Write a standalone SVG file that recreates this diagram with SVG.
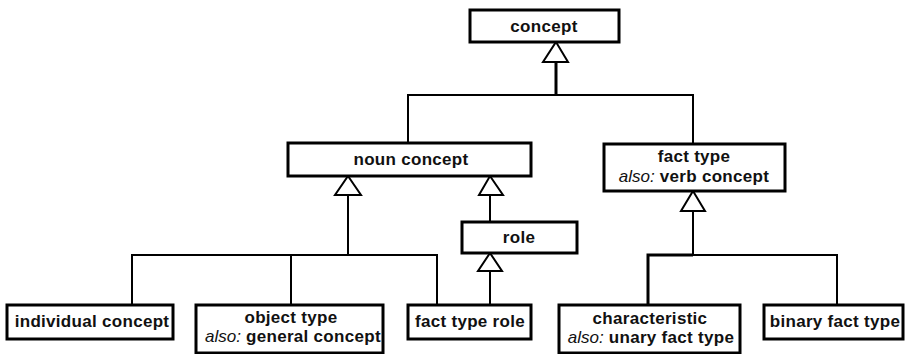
<svg xmlns="http://www.w3.org/2000/svg" width="911" height="354" viewBox="0 0 911 354">
  <style>
    .box { fill: #ffffff; stroke: #000000; stroke-width: 3; }
    .conn { fill: none; stroke: #000000; stroke-width: 2; }
    .thick { stroke-width: 3; }
    .gen { fill: #ffffff; stroke: #000000; stroke-width: 2; stroke-linejoin: miter; }
    text { font-family: "Liberation Sans", Arial, sans-serif; font-size: 17px; font-weight: bold; fill: #111111; text-anchor: middle; letter-spacing: 0.3px; }
    .it { font-style: italic; font-weight: normal; letter-spacing: 0; }
  </style>

  <!-- generalization connectors -->
  <g id="connectors">
    <!-- concept <- noun concept, fact type -->
    <path class="conn thick" d="M556,62 V95"/>
    <path class="conn" d="M408,143 V95 H693 V144"/>
    <polygon class="gen" points="556,42 568,62 543,62"/>

    <!-- noun concept <- individual concept, object type, fact type role -->
    <path class="conn" d="M348,195 V255"/>
    <path class="conn" d="M132,305 V255 H437 V305"/>
    <path class="conn" d="M291,255 V305"/>
    <polygon class="gen" points="348,176 361,195 335,195"/>

    <!-- noun concept <- role -->
    <path class="conn" d="M490,195 V222"/>
    <polygon class="gen" points="490,176 503,195 479,195"/>

    <!-- role <- fact type role -->
    <path class="conn" d="M490,271 V305"/>
    <polygon class="gen" points="490,253 502,271 478,271"/>

    <!-- fact type <- characteristic, binary fact type -->
    <path class="conn" d="M693,211 V255"/>
    <path class="conn thick" d="M648,305 V255 H693"/>
    <path class="conn" d="M693,255 H837 V305"/>
    <polygon class="gen" points="693,191 705,211 681,211"/>
  </g>

  <g id="concept">
    <rect class="box" x="470" y="10" width="149" height="32"/>
    <text x="544" y="32">concept</text>
  </g>

  <g id="noun-concept">
    <rect class="box" x="288" y="143" width="243" height="33"/>
    <text x="411" y="165">noun concept</text>
  </g>

  <g id="fact-type">
    <rect class="box" x="604" y="144" width="181" height="47"/>
    <text x="694" y="162">fact type</text>
    <text x="694" y="182"><tspan class="it">also:</tspan> verb concept</text>
  </g>

  <g id="role">
    <rect class="box" x="462" y="222" width="115" height="31"/>
    <text x="519" y="243">role</text>
  </g>

  <g id="individual-concept">
    <rect class="box" x="7" y="305" width="166" height="34"/>
    <text x="92" y="327">individual concept</text>
  </g>

  <g id="object-type">
    <rect class="box" x="196" y="305" width="187" height="48"/>
    <text x="291" y="323">object type</text>
    <text x="293" y="342"><tspan class="it">also:</tspan> general concept</text>
  </g>

  <g id="fact-type-role">
    <rect class="box" x="408" y="305" width="123" height="34"/>
    <text x="470" y="327">fact type role</text>
  </g>

  <g id="characteristic">
    <rect class="box" x="559" y="305" width="181" height="48"/>
    <text x="650" y="324">characteristic</text>
    <text x="651" y="343"><tspan class="it">also:</tspan> unary fact type</text>
  </g>

  <g id="binary-fact-type">
    <rect class="box" x="764" y="305" width="139" height="34"/>
    <text x="835" y="327">binary fact type</text>
  </g>
</svg>
